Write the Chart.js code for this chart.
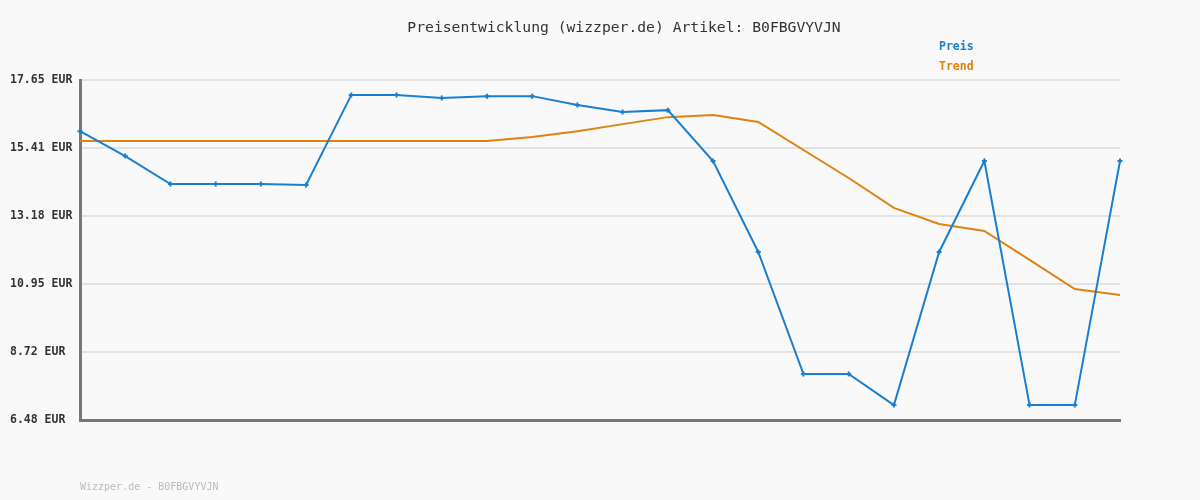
<!DOCTYPE html>
<html>
<head>
<meta charset="utf-8">
<script src="https://cdn.jsdelivr.net/npm/chart.js@4/dist/chart.umd.min.js"></script>
<style>
html,body{margin:0;padding:0;background:#f9f9f9;}
#wrap{width:1200px;height:500px;position:relative;}
</style>
</head>
<body>
<div id="wrap"><canvas id="c" width="1200" height="500"></canvas></div>
<script>
const titleText = "Preisentwicklung (wizzper.de) Artikel: B0FBGVYVJN";
const footerText = "Wizzper.de - B0FBGVYVJN";
const categories = Array.from({length: 24}, (_, i) => String(i + 1));
const preis = [15.97, 15.15, 14.23, 14.23, 14.23, 14.20, 17.16, 17.16, 17.06, 17.12, 17.12, 16.83, 16.60, 16.66, 14.99, 12.00, 7.99, 7.99, 6.97, 12.00, 14.99, 6.97, 6.97, 14.99];
const trend = [15.65, 15.65, 15.65, 15.65, 15.65, 15.65, 15.65, 15.65, 15.65, 15.65, 15.78, 15.97, 16.20, 16.43, 16.50, 16.27, 15.35, 14.43, 13.45, 12.92, 12.69, 11.74, 10.78, 10.59];
const yTicks = [6.48, 8.72, 10.95, 13.18, 15.41, 17.65];
const seriesNames = ["Preis", "Trend"];
const colors = ["#1a7fcf", "#e0820f"];

const mono = "'DejaVu Sans Mono', 'Liberation Mono', monospace";

const textPlugin = {
  id: 'texts',
  afterDraw(chart) {
    const ctx = chart.ctx;
    ctx.save();
    ctx.textBaseline = 'middle';
    ctx.fillStyle = '#333';
    ctx.font = "14.7px " + mono;
    ctx.textAlign = 'center';
    ctx.fillText(titleText, 624, 28);
    ctx.textAlign = 'left';
    ctx.font = "bold 11.5px " + mono;
    chart.data.datasets.forEach((ds, i) => {
      ctx.fillStyle = ds.borderColor;
      ctx.fillText(ds.label, 939, 47 + i * 20);
    });
    ctx.font = "10px " + mono;
    ctx.fillStyle = '#bbb';
    ctx.fillText(footerText, 80, 487);
    ctx.restore();
  }
};

new Chart(document.getElementById('c'), {
  type: 'line',
  data: {
    labels: categories,
    datasets: [
      { label: seriesNames[0], data: preis, borderColor: colors[0], backgroundColor: colors[0], borderWidth: 2, pointStyle: 'cross', pointRadius: 2.5, pointBorderWidth: 2, tension: 0 },
      { label: seriesNames[1], data: trend, borderColor: colors[1], backgroundColor: colors[1], borderWidth: 2, pointRadius: 0, tension: 0 }
    ]
  },
  options: {
    responsive: false,
    animation: false,
    layout: { padding: { left: 10, right: 80, top: 80, bottom: 80 } },
    plugins: { legend: { display: false }, title: { display: false }, tooltip: { enabled: false } },
    scales: {
      x: {
        offset: false,
        ticks: { display: false },
        grid: { display: false, drawTicks: false },
        border: { display: true, color: '#777', width: 3 },
        afterFit(s) { s.height = 0; }
      },
      y: {
        min: 6.48, max: 17.65,
        afterBuildTicks(s) { s.ticks = yTicks.map(v => ({ value: v })); },
        afterFit(s) { s.width = 70; },
        ticks: {
          crossAlign: 'far',
          color: '#333',
          font: { family: mono, size: 11.5, weight: 'bold' },
          callback: v => Number(v).toFixed(2) + ' EUR'
        },
        grid: { color: '#e3e3e3', lineWidth: 2, drawTicks: false },
        border: { display: true, color: '#777', width: 3 }
      }
    }
  },
  plugins: [textPlugin]
});
</script>
</body>
</html>
